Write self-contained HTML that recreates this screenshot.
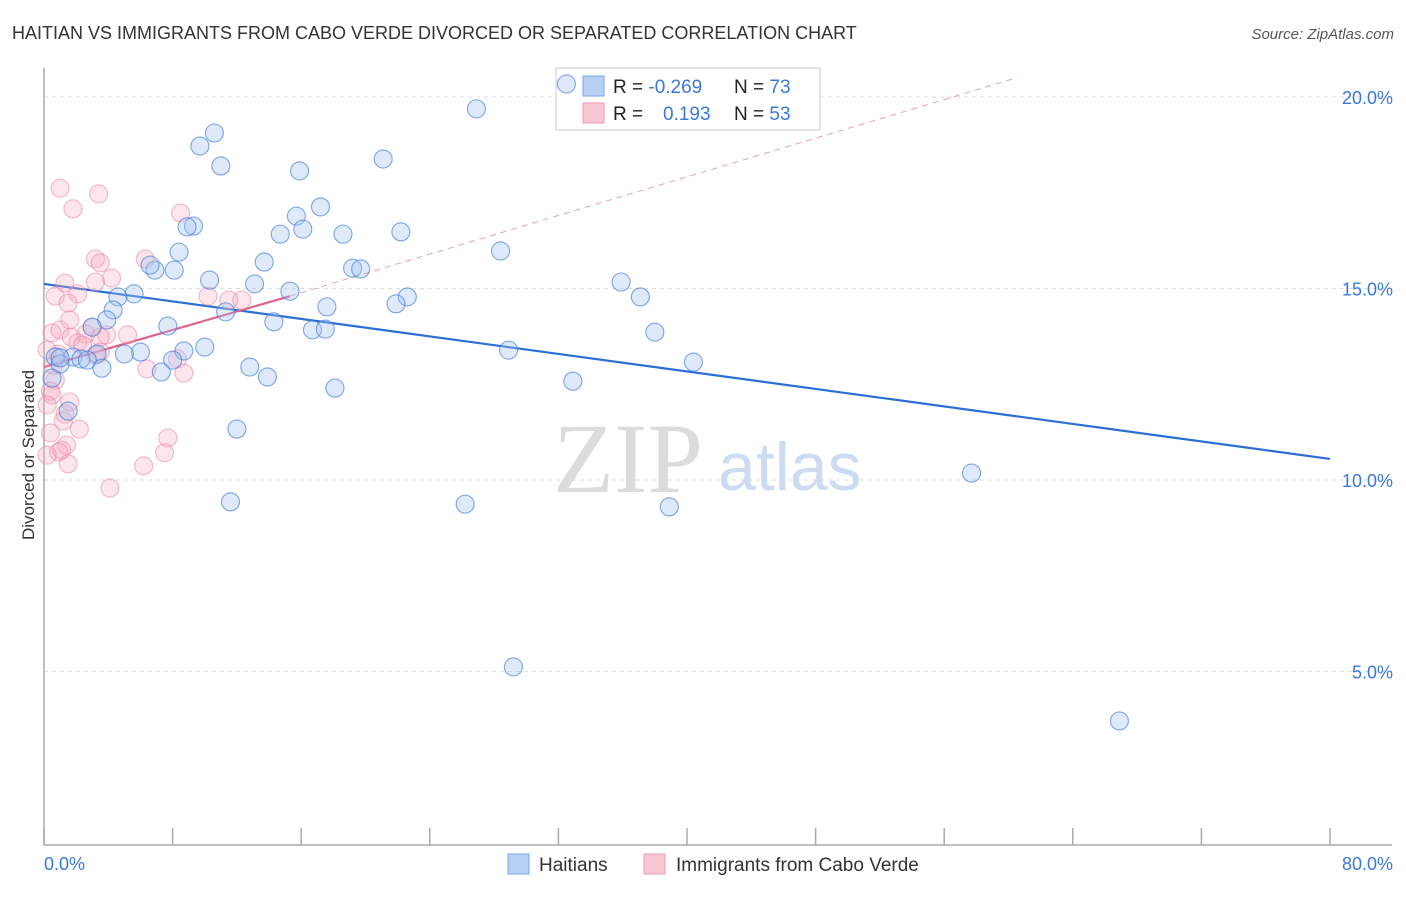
<!DOCTYPE html>
<html><head><meta charset="utf-8"><style>
body{margin:0;background:#fff;font-family:"Liberation Sans",sans-serif}
</style></head><body>
<svg id="chart" width="1406" height="892" viewBox="0 0 1406 892" font-family="Liberation Sans, sans-serif">
<text x="12" y="39" font-size="18" fill="#333">HAITIAN VS IMMIGRANTS FROM CABO VERDE DIVORCED OR SEPARATED CORRELATION CHART</text>
<text x="1394" y="39" font-size="15" fill="#555" font-style="italic" text-anchor="end">Source: ZipAtlas.com</text>
<g id="grid"></g>
<line x1="44" y1="68" x2="44" y2="845" stroke="#aaa" stroke-width="1.5"/>
<line x1="44" y1="845" x2="1392" y2="845" stroke="#aaa" stroke-width="1.5"/>
<g id="xticks"></g>
<g id="ylabels"></g>
<text x="44" y="870" font-size="18" fill="#3b78d8">0.0%</text>
<text x="1393" y="870" font-size="18" fill="#3b78d8" text-anchor="end">80.0%</text>
<text transform="translate(34,455) rotate(-90)" font-size="17" fill="#333" text-anchor="middle">Divorced or Separated</text>
<text x="553" y="492" font-size="100" fill="#dcdcdc" style="font-family:'Liberation Serif',serif">ZIP</text>
<text x="718" y="490" font-size="68" fill="#cddcf2">atlas</text>
<g id="lines"></g>
<g>
<rect x="556" y="68" width="264" height="62" fill="#fff" stroke="#ccc"/>
<rect x="583" y="76" width="21" height="20" fill="#b8d0f3" stroke="#7aa6e8"/>
<rect x="583" y="103" width="21" height="20" fill="#f9c6d4" stroke="#ee9bb3"/>
<text x="613" y="93" font-size="19" fill="#222">R = <tspan fill="#3b78d8">-0.269</tspan></text>
<text x="734" y="93" font-size="19" fill="#222">N = <tspan fill="#3b78d8">73</tspan></text>
<text x="613" y="120" font-size="19" fill="#222">R = <tspan fill="#3b78d8" x="663">0.193</tspan></text>
<text x="734" y="120" font-size="19" fill="#222">N = <tspan fill="#3b78d8">53</tspan></text>
</g>
<g id="pts"></g>
<g>
<rect x="508" y="854" width="21" height="20" fill="#b8d0f3" stroke="#7aa6e8"/>
<text x="539" y="871" font-size="19" fill="#333">Haitians</text>
<rect x="644" y="854" width="21" height="20" fill="#f9c6d4" stroke="#ee9bb3"/>
<text x="676" y="871" font-size="19" fill="#333">Immigrants from Cabo Verde</text>
</g>
</svg>
<script>
const yTicks=[5,10,15,20];
const xTicks=[0,8,16,24,32,40,48,56,64,72,80];
const blueX=[32.5,26.9,10.6,9.7,21.1,11.0,15.9,17.2,15.7,9.3,8.9,14.7,16.1,18.6,22.2,28.4,8.4,13.7,8.1,6.9,6.6,19.2,19.7,10.3,13.1,35.9,15.3,5.6,4.6,22.6,37.1,21.9,17.6,4.3,11.3,3.9,7.7,3.0,14.3,16.7,17.5,38.0,10.0,8.7,6.0,3.3,5.0,28.9,0.7,1.8,2.3,2.7,1.0,8.0,3.6,40.4,12.8,7.3,13.9,32.9,18.1,1.5,12.0,57.7,26.2,38.9,11.6,29.2,66.9,0.5,1.0];
const blueY=[20.34,19.69,19.06,18.72,18.38,18.20,18.07,17.13,16.89,16.63,16.61,16.42,16.55,16.42,16.48,15.98,15.95,15.69,15.48,15.48,15.61,15.53,15.51,15.22,15.12,15.17,14.93,14.86,14.78,14.78,14.78,14.60,14.52,14.44,14.39,14.18,14.02,13.99,14.13,13.92,13.94,13.86,13.47,13.37,13.34,13.29,13.29,13.39,13.21,13.21,13.16,13.13,13.03,13.13,12.92,13.08,12.95,12.82,12.69,12.58,12.40,11.80,11.33,10.18,9.37,9.30,9.43,5.12,3.71,12.66,13.19];
const pinkX=[1.0,3.4,1.8,8.5,3.2,3.5,6.3,4.2,1.3,3.2,0.7,2.1,1.5,10.2,12.3,11.5,1.6,3.0,0.5,1.0,1.7,2.6,2.1,3.9,3.5,2.4,3.5,8.3,8.7,6.4,0.7,0.4,0.5,0.2,1.6,1.3,1.2,2.2,0.4,1.4,7.7,7.5,0.9,1.1,1.5,6.2,4.1,0.6,0.9,0.2,0.2,3.2,5.2];
const pinkY=[17.62,17.47,17.08,16.97,15.77,15.67,15.77,15.27,15.14,15.17,14.80,14.86,14.62,14.80,14.70,14.70,14.18,13.99,13.84,13.92,13.73,13.81,13.58,13.79,13.73,13.52,13.34,13.16,12.79,12.90,12.61,12.32,12.22,11.96,12.04,11.72,11.54,11.33,11.23,10.91,11.10,10.71,10.73,10.78,10.42,10.37,9.79,13.00,13.29,13.39,10.65,13.26,13.79];
const blueTrend=[15.12,10.55];
const pinkTrend=[12.95,14.80];
const pinkSolidEnd=15.3, pinkDashEnd=60.4;
const NS='http://www.w3.org/2000/svg';
const sx=v=>44+v/80*1286;
const sy=v=>863-v*38.3;
function mk(tag,attrs,parent){const e=document.createElementNS(NS,tag);for(const k in attrs)e.setAttribute(k,attrs[k]);document.getElementById(parent).appendChild(e);return e;}
yTicks.forEach(t=>{
 const l=mk('line',{x1:44,x2:1392,y1:sy(t),y2:sy(t),stroke:'#ddd','stroke-dasharray':'4,4'},'grid');
 
 
 const tx=mk('text',{x:1393,y:sy(t)+7,'font-size':18,fill:'#3b78d8','text-anchor':'end'},'ylabels');
 tx.textContent=t.toFixed(1)+'%';
 
 
});
xTicks.forEach(t=>{
 const l=mk('line',{x1:sx(t),x2:sx(t),y1:828,y2:845,stroke:'#aaa','stroke-width':1.5},'xticks');
 
 
});
pinkX.forEach((x,i)=>{
 const c=mk('circle',{cx:sx(x),cy:sy(pinkY[i]),r:9,fill:'rgba(244,170,192,0.3)',stroke:'rgba(232,130,160,0.55)','stroke-width':1.1},'pts');
 
 
});
blueX.forEach((x,i)=>{
 const c=mk('circle',{cx:sx(x),cy:sy(blueY[i]),r:9,fill:'rgba(160,195,240,0.35)',stroke:'rgba(60,120,215,0.65)','stroke-width':1.1},'pts');
 
 
});
const slope=(pinkTrend[1]-pinkTrend[0])/pinkSolidEnd;
const pd=mk('line',{x1:sx(pinkSolidEnd),y1:sy(pinkTrend[1]),x2:sx(pinkDashEnd),y2:sy(pinkTrend[0]+slope*pinkDashEnd)-9,stroke:'#e8a0b5','stroke-width':1,'stroke-dasharray':'6,5'},'lines');


const bl=mk('line',{x1:sx(0),y1:sy(blueTrend[0]),x2:sx(80),y2:sy(blueTrend[1]),stroke:'#2b6fd6','stroke-width':2.2},'lines');


const pl=mk('line',{x1:sx(0),y1:sy(pinkTrend[0]),x2:sx(pinkSolidEnd),y2:sy(pinkTrend[1]),stroke:'#e0628c','stroke-width':2.2},'lines');


</script>
</body></html>
